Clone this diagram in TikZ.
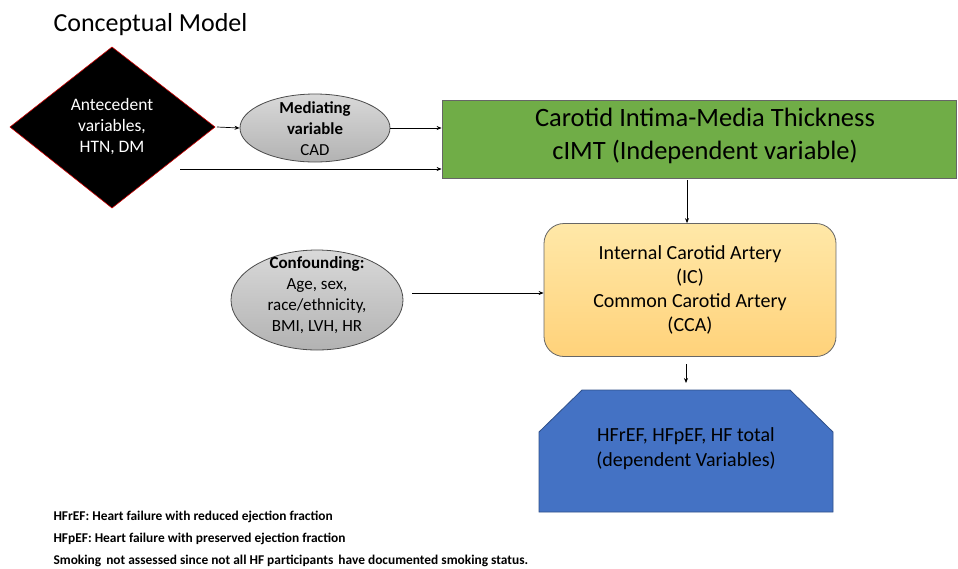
\documentclass[tikz,border=0pt]{standalone}
\usepackage{fontspec}
\setmainfont{Carlito}
\usetikzlibrary{shapes.geometric,arrows.meta}
\definecolor{grn}{HTML}{70AD47}
\definecolor{blu}{HTML}{4472C4}
\definecolor{orgtop}{HTML}{FFE8A8}
\definecolor{orgbot}{HTML}{FFD27A}
\tikzset{
  conn/.style={-{Stealth[length=5pt,width=4pt]}, line width=0.7pt, black},
  elli/.style={ellipse, draw=black!70, line width=0.8pt, top color=gray!30, bottom color=gray!60, inner sep=0pt},
}
\begin{document}
\begin{tikzpicture}[x=1pt,y=-1pt]
\useasboundingbox (0,0) rectangle (958,568);
\node[anchor=west, font=\fontsize{26}{30}\selectfont] (title) at (50,25) {Conceptual Model};
% diamond
\filldraw[fill=black, draw=red!80!black, line width=0.6pt] (10,127) -- (112,47) -- (215,127) -- (112,208) -- cycle;
\node[align=center, text=white, font=\fontsize{17.5}{21}\selectfont] (ante) at (112,127) {Antecedent\\variables,\\HTN, DM};
\coordinate (anteR) at (217,127);
\coordinate (anteB) at (180,169);
% mediating ellipse
\node[elli, minimum width=150pt, minimum height=68pt] (med) at (315,128) {};
\node[align=center, font=\fontsize{16.8}{21}\selectfont] (medt) at (315,129) {\textbf{Mediating}\\\textbf{variable}\\CAD};
% green box
\node[draw=black!60, fill=grn, line width=0.8pt, minimum width=514pt, minimum height=78pt, inner sep=0pt] (cimt) at (699,139) {};
\node[align=center, font=\fontsize{26.5}{33}\selectfont] (cimtt) at (705,136) {Carotid Intima-Media Thickness\\cIMT (Independent variable)};
% orange box
\node[draw=black!60, line width=0.8pt, rounded corners=20pt, top color=orgtop, bottom color=orgbot, minimum width=292pt, minimum height=133pt, inner sep=0pt] (ica) at (690,290) {};
\node[align=center, font=\fontsize{20}{24}\selectfont] (icat) at (690,290) {Internal Carotid Artery\\(IC)\\Common Carotid Artery\\(CCA)};
% confounding ellipse
\node[elli, minimum width=172pt, minimum height=100pt] (conf) at (317,300) {};
\node[align=center, font=\fontsize{17}{21}\selectfont] (conft) at (317,295) {\textbf{Confounding:}\\Age, sex,\\race/ethnicity,\\BMI, LVH, HR};
% blue shape
\filldraw[fill=blu, draw=blu!70!black, line width=0.8pt] (582,390) -- (790,390) -- (833,432) -- (833,512) -- (539,512) -- (539,432) -- cycle;
\node[align=center, font=\fontsize{20}{25}\selectfont] (hf) at (686,449) {HFrEF, HFpEF, HF total\\(dependent Variables)};
\coordinate (hfT) at (686,383);
% connectors
\draw[conn] (anteR) -- (med.west);
\draw[conn] (med.east) -- (cimt.west |- med.east);
\draw[conn] (anteB) -- (cimt.west |- anteB);
\draw[conn] (687,180) -- (ica.north -| 687,0);
\coordinate (confR) at (412,293);
\draw[conn] (confR) -- (ica.west |- confR);
\draw[conn] (686,364) -- (hfT);
% footnotes
\node[anchor=west, font=\bfseries\fontsize{13.4}{15}\selectfont] (f1) at (50,517) {HFrEF: Heart failure with reduced ejection fraction};
\node[anchor=west, font=\bfseries\fontsize{13.4}{15}\selectfont] (f2) at (50,539) {HFpEF: Heart failure with preserved ejection fraction};
\node[anchor=west, font=\bfseries\fontsize{13.4}{15}\selectfont] (f3) at (50,561) {Smoking\hspace{2pt} not assessed since not all HF participants\hspace{2pt} have documented smoking status.};
\end{tikzpicture}
\end{document}
